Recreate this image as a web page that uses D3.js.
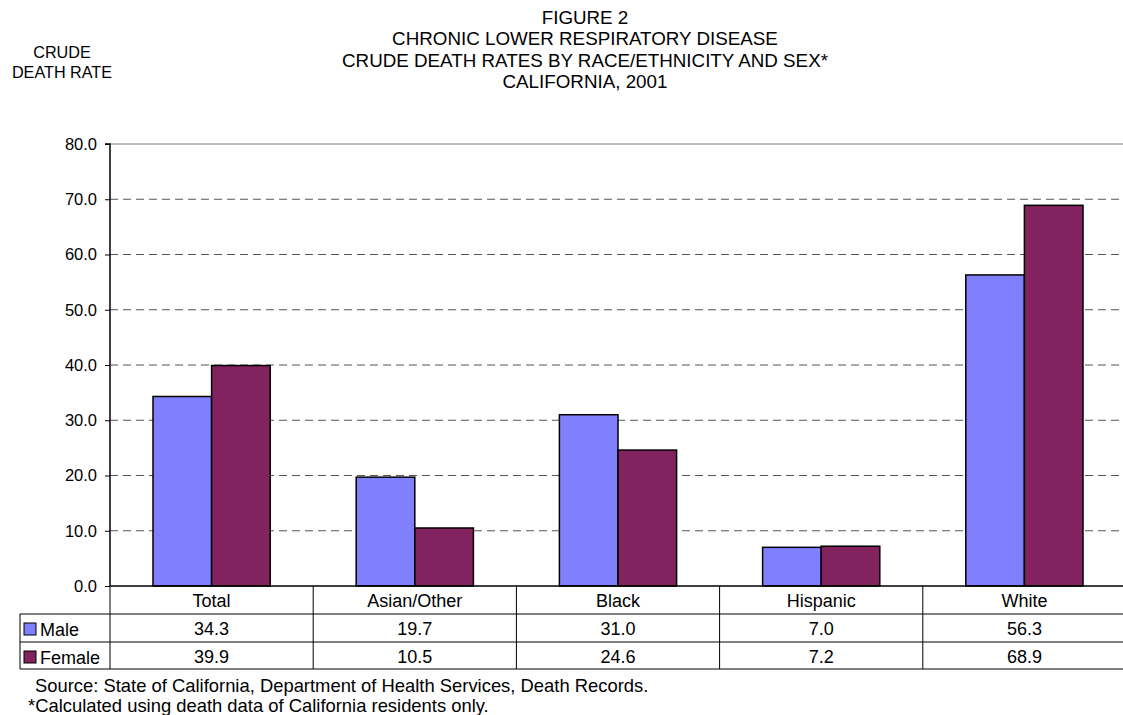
<!DOCTYPE html>
<html>
<head>
<meta charset="utf-8">
<script src="https://cdn.jsdelivr.net/npm/d3@7"></script>
<style>
  body { margin: 0; background: #fff; }
  svg { display: block; font-family: Arial, "Liberation Sans", sans-serif; }
</style>
</head>
<body>
<svg id="chart" width="1123" height="715"></svg>
<script>
// Crude death rates per 100,000, by race/ethnicity and sex
const categories = ["Total", "Asian/Other", "Black", "Hispanic", "White"];
const maleRates = [34.3, 19.7, 31.0, 7.0, 56.3];
const femaleRates = [39.9, 10.5, 24.6, 7.2, 68.9];
const seriesNames = ["Male", "Female"];
const yTicks = [0, 10, 20, 30, 40, 50, 60, 70, 80];
const titleLines = [
  "FIGURE 2",
  "CHRONIC LOWER RESPIRATORY DISEASE",
  "CRUDE DEATH RATES BY RACE/ETHNICITY AND SEX*",
  "CALIFORNIA, 2001"
];
const notes = [
  "Source: State of California, Department of Health Services, Death Records.",
  "*Calculated using death data of California residents only."
];

const colors = { Male: "#8080ff", Female: "#822360" };
const series = [
  { name: "Male", values: maleRates },
  { name: "Female", values: femaleRates }
];

const svg = d3.select("#chart");
const plot = { left: 110, right: 1126, top: 144, bottom: 586 };

const x = d3.scaleBand().domain(categories).range([plot.left, plot.right]).paddingInner(0).paddingOuter(0);
const barPad = 43;
const xs = d3.scaleBand().domain(seriesNames).range([barPad, x.bandwidth() - barPad]);
const y = d3.scaleLinear().domain([0, 80]).range([plot.bottom, plot.top]);

// Titles
svg.append("g").selectAll("text").data(titleLines).join("text")
  .attr("x", 585).attr("y", (d, i) => 24 + i * 21.3)
  .attr("text-anchor", "middle").attr("font-size", 18.8).attr("fill", "#000")
  .text(d => d);

svg.append("g").selectAll("text").data(["CRUDE", "DEATH RATE"]).join("text")
  .attr("x", 62).attr("y", (d, i) => 58 + i * 20)
  .attr("text-anchor", "middle").attr("font-size", 16.2).attr("fill", "#000")
  .text(d => d);

// Gridlines
svg.append("g").selectAll("line").data(yTicks.filter(t => t > 0 && t < 80)).join("line")
  .attr("x1", plot.left).attr("x2", plot.right)
  .attr("y1", d => y(d)).attr("y2", d => y(d))
  .attr("stroke", "#555").attr("stroke-width", 1).attr("stroke-dasharray", "8,5");
svg.append("line")
  .attr("x1", plot.left).attr("x2", plot.right)
  .attr("y1", y(80)).attr("y2", y(80))
  .attr("stroke", "#808080").attr("stroke-width", 1);

// Bars
const groups = svg.append("g").selectAll("g").data(series).join("g");
groups.selectAll("rect").data(s => s.values.map((v, i) => ({ name: s.name, cat: categories[i], v })))
  .join("rect")
  .attr("x", d => x(d.cat) + xs(d.name))
  .attr("y", d => y(d.v))
  .attr("width", xs.bandwidth())
  .attr("height", d => y(0) - y(d.v))
  .attr("fill", d => colors[d.name])
  .attr("stroke", "#000").attr("stroke-width", 1.5);

// Y axis
const yAxis = d3.axisLeft(y).tickValues(yTicks).tickFormat(d3.format(".1f")).tickSize(5).tickPadding(8);
const ga = svg.append("g").attr("transform", `translate(${plot.left},0)`).call(yAxis);
ga.select(".domain").attr("stroke", "#000").attr("stroke-width", 1.5).attr("d", `M-5,${plot.top}H0V${plot.bottom}`);
ga.selectAll(".tick line").attr("stroke", "#000");
ga.selectAll(".tick text").attr("font-size", 16.5).attr("font-family", "Arial, 'Liberation Sans', sans-serif").attr("fill", "#000");

// Data table below the axis
const rowTop = plot.bottom;
const rowY = [rowTop, rowTop + 28, rowTop + 56, rowTop + 83];
const tableLeft = 20;
const tbl = svg.append("g");
tbl.append("line").attr("x1", plot.left).attr("x2", plot.right).attr("y1", rowY[0]).attr("y2", rowY[0])
  .attr("stroke", "#000").attr("stroke-width", 1.5);
[1, 2, 3].forEach(i => {
  tbl.append("line").attr("x1", tableLeft).attr("x2", plot.right).attr("y1", rowY[i]).attr("y2", rowY[i])
    .attr("stroke", "#000").attr("stroke-width", 1);
});
// vertical separators
tbl.selectAll("line.sep").data(categories).join("line").attr("class", "sep")
  .attr("x1", d => x(d)).attr("x2", d => x(d))
  .attr("y1", rowY[0]).attr("y2", rowY[3])
  .attr("stroke", "#000").attr("stroke-width", 1);
tbl.append("line").attr("x1", tableLeft).attr("x2", tableLeft).attr("y1", rowY[1]).attr("y2", rowY[3])
  .attr("stroke", "#000").attr("stroke-width", 1);

// category header
tbl.selectAll("text.cat").data(categories).join("text").attr("class", "cat")
  .attr("x", d => x(d) + x.bandwidth() / 2).attr("y", rowY[0] + 21)
  .attr("text-anchor", "middle").attr("font-size", 18).attr("fill", "#000")
  .text(d => d);

// series rows
series.forEach((s, r) => {
  const yy = rowY[r + 1];
  tbl.append("rect").attr("x", 24).attr("y", yy + 9).attr("width", 12).attr("height", 12)
    .attr("fill", colors[s.name]).attr("stroke", "#000").attr("stroke-width", 1);
  tbl.append("text").attr("x", 40).attr("y", yy + 22).attr("font-size", 18).attr("fill", "#000").text(s.name);
  tbl.selectAll(null).data(s.values).join("text")
    .attr("x", (d, i) => x(categories[i]) + x.bandwidth() / 2).attr("y", yy + 21)
    .attr("text-anchor", "middle").attr("font-size", 18).attr("fill", "#000")
    .text(d => d3.format(".1f")(d));
});

// footnotes
svg.append("g").selectAll("text").data(notes).join("text")
  .attr("x", (d, i) => i === 0 ? 35 : 28).attr("y", (d, i) => 692 + i * 20)
  .attr("font-size", 18.4).attr("fill", "#000").text(d => d);
</script>
</body>
</html>
